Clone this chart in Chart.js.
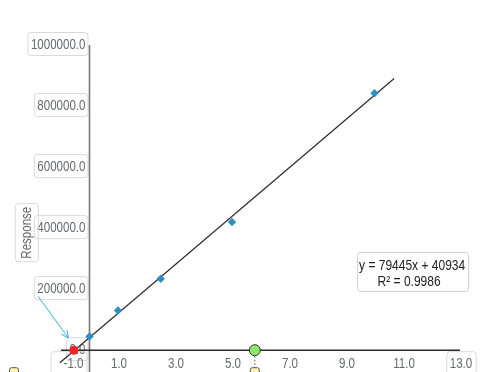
<!DOCTYPE html>
<html>
<head>
<meta charset="utf-8">
<title>Calibration curve</title>
<script src="https://cdn.jsdelivr.net/npm/chart.js@4.4.1/dist/chart.umd.min.js"></script>
<style>
  html, body { margin: 0; padding: 0; background: #fff; overflow: hidden; }
  #wrap { width: 485px; height: 420px; }
</style>
</head>
<body>
<div id="wrap"><canvas id="curveChart" width="485" height="420"></canvas></div>
<script>
// standards (blue diamonds)
const stdX = [0, 1, 2.5, 5, 10];
const stdY = [45000, 130000, 234000, 420000, 842000];
// fitted line end points
const fitX = [-1.04, 10.69];
const fitY = [-41000, 890000];
// markers on the x axis
const redX = [-0.55];
const redY = [0];
const greenX = [5.8];
const greenY = [0];
// ticks
const xTicks = [-1, 1, 3, 5, 7, 9, 11, 13];
const yTicks = [0, 200000, 400000, 600000, 800000, 1000000];
const equationLines = ['y = 79445x + 40934', 'R\u00b2 = 0.9986'];
const yTitle = 'Response';

const FONT = '"Liberation Sans", Arial, sans-serif';
const NARROW = 0.77;

function toPoints(xs, ys) {
    return xs.map((v, i) => ({ x: v, y: ys[i] }));
}

function roundBox(ctx, x, y, w, h, r) {
    ctx.beginPath();
    ctx.moveTo(x + r, y);
    ctx.lineTo(x + w - r, y);
    ctx.arcTo(x + w, y, x + w, y + r, r);
    ctx.lineTo(x + w, y + h - r);
    ctx.arcTo(x + w, y + h, x + w - r, y + h, r);
    ctx.lineTo(x + r, y + h);
    ctx.arcTo(x, y + h, x, y + h - r, r);
    ctx.lineTo(x, y + r);
    ctx.arcTo(x, y, x + r, y, r);
    ctx.closePath();
}

// narrow text: squeeze a regular sans horizontally
function textW(ctx, txt, k) {
    return ctx.measureText(txt).width * (k || NARROW);
}
function narrowText(ctx, txt, x, y, k) {
    k = k || NARROW;
    ctx.save();
    ctx.translate(x, y);
    ctx.scale(k, 1);
    ctx.fillText(txt, 0, 0);
    ctx.restore();
}

const overlay = {
    id: 'overlay',
    beforeDatasetsDraw(chart) {
        const { ctx, scales: { x, y } } = chart;
        const x0 = x.getPixelForValue(0);
        const y0 = y.getPixelForValue(0);
        ctx.save();
        ctx.font = '15px ' + FONT;
        ctx.textBaseline = 'middle';

        // y tick labels in boxes
        ctx.textAlign = 'right';
        yTicks.forEach(v => {
            const py = y.getPixelForValue(v) - 1;
            const txt = v.toFixed(1);
            const w = textW(ctx, txt);
            ctx.strokeStyle = '#d9d9d9';
            ctx.lineWidth = 1;
            roundBox(ctx, x0 - 4 - w - 3, py - 11.5, w + 5.5, 23, 3);
            ctx.stroke();
            ctx.fillStyle = '#65686e';
            narrowText(ctx, txt, x0 - 4, py + 0.5);
        });

        // x tick labels
        ctx.textAlign = 'center';
        xTicks.forEach((v, i) => {
            let px = x.getPixelForValue(v) + 1;
            const txt = v.toFixed(1);
            const w = textW(ctx, txt);
            ctx.strokeStyle = '#d9d9d9';
            if (i === 0) {
                px = x0 - 16;
                roundBox(ctx, x0 - 38.5, y0 + 1.5, 36, 23, 3);
                ctx.stroke();
            } else if (i === xTicks.length - 1) {
                roundBox(ctx, px - w / 2 - 3, y0 + 1.5, w + 7, 23, 3);
                ctx.stroke();
            }
            ctx.fillStyle = '#65686e';
            narrowText(ctx, txt, px, y0 + 14);
        });

        // y title
        ctx.strokeStyle = '#d9d9d9';
        const tcx = x.getPixelForValue(-2.2), tcy = y.getPixelForValue(385000);
        roundBox(ctx, tcx - 11.5, tcy - 29, 23, 58, 3);
        ctx.stroke();
        ctx.save();
        ctx.translate(tcx, tcy);
        ctx.rotate(-Math.PI / 2);
        ctx.fillStyle = '#65686e';
        ctx.textAlign = 'center';
        narrowText(ctx, yTitle, 0, 0.5);
        ctx.restore();

        // axes
        ctx.strokeStyle = '#7a7a7a';
        ctx.lineWidth = 1.6;
        ctx.beginPath();
        ctx.moveTo(x0, y.getPixelForValue(1000000));
        ctx.lineTo(x0, chart.height);
        ctx.stroke();
        ctx.strokeStyle = '#2a2a2a';
        ctx.lineWidth = 1.4;
        ctx.beginPath();
        ctx.moveTo(x.getPixelForValue(-1), y0);
        ctx.lineTo(x.getPixelForValue(13), y0);
        ctx.stroke();

        // dotted drop line under the green marker + handles
        const gx = x.getPixelForValue(greenX[0]);
        ctx.strokeStyle = '#444';
        ctx.lineWidth = 1;
        ctx.setLineDash([1.5, 2]);
        ctx.beginPath();
        ctx.moveTo(gx, y0 + 6);
        ctx.lineTo(gx, y0 + 18);
        ctx.stroke();
        ctx.setLineDash([]);
        ctx.fillStyle = '#fff4b8';
        ctx.strokeStyle = '#555';
        [gx, x.getPixelForValue(-2.65)].forEach(hx => {
            roundBox(ctx, hx - 4.5, y0 + 17.5, 9, 12, 2);
            ctx.fill();
            ctx.stroke();
        });

        // arrow pointing to the x intercept
        const ax1 = x.getPixelForValue(-1.8), ay1 = y.getPixelForValue(176000);
        const ax2 = x.getPixelForValue(-0.74), ay2 = y.getPixelForValue(40000);
        ctx.strokeStyle = '#37aee0';
        ctx.lineWidth = 1;
        ctx.beginPath();
        ctx.moveTo(ax1, ay1);
        ctx.lineTo(ax2, ay2);
        const ang = Math.atan2(ay2 - ay1, ax2 - ax1);
        ctx.moveTo(ax2, ay2);
        ctx.lineTo(ax2 - 8 * Math.cos(ang - 0.45), ay2 - 8 * Math.sin(ang - 0.45));
        ctx.moveTo(ax2, ay2);
        ctx.lineTo(ax2 - 8 * Math.cos(ang + 0.45), ay2 - 8 * Math.sin(ang + 0.45));
        ctx.stroke();
        ctx.restore();
    },
    afterDraw(chart) {
        const { ctx, scales: { x, y } } = chart;
        ctx.save();
        // equation box
        const bx = x.getPixelForValue(9.39), by = y.getPixelForValue(322000);
        ctx.strokeStyle = '#cfcfcf';
        ctx.lineWidth = 1;
        roundBox(ctx, bx + 0.5, by + 0.5, 111, 39, 3);
        ctx.stroke();
        ctx.font = '15px ' + FONT;
        ctx.textAlign = 'center';
        ctx.textBaseline = 'middle';
        ctx.fillStyle = '#222';
        narrowText(ctx, equationLines[0], bx + 55, by + 13.5, 0.8);
        narrowText(ctx, equationLines[1], bx + 52, by + 29.5, 0.8);
        ctx.restore();
    }
};

new Chart(document.getElementById('curveChart'), {
    type: 'scatter',
    data: {
        datasets: [
            {
                type: 'line',
                data: toPoints(fitX, fitY),
                borderColor: '#2b2b2b',
                borderWidth: 1.2,
                pointRadius: 0,
                clip: false,
                order: 3
            },
            {
                data: toPoints(stdX, stdY),
                pointStyle: 'rectRot',
                pointRadius: 4.2,
                backgroundColor: '#2f8fc2',
                borderColor: '#2f8fc2',
                borderWidth: 0,
                clip: false,
                order: 2
            },
            {
                data: toPoints(redX, redY),
                pointRadius: 4.5,
                backgroundColor: '#ee2525',
                borderColor: '#ee2525',
                borderWidth: 0,
                clip: false,
                order: 1
            },
            {
                data: toPoints(greenX, greenY),
                pointRadius: 5.5,
                backgroundColor: '#8ee86a',
                borderColor: '#333',
                borderWidth: 1,
                clip: false,
                order: 1
            }
        ]
    },
    options: {
        responsive: false,
        animation: false,
        layout: { padding: { left: 61, right: 25, top: 45, bottom: 24 } },
        plugins: { legend: { display: false }, tooltip: { enabled: false } },
        scales: {
            x: { type: 'linear', min: -1, max: 13, display: false },
            y: { type: 'linear', min: -150000, max: 1000000, display: false }
        }
    },
    plugins: [overlay]
});
</script>
</body>
</html>
